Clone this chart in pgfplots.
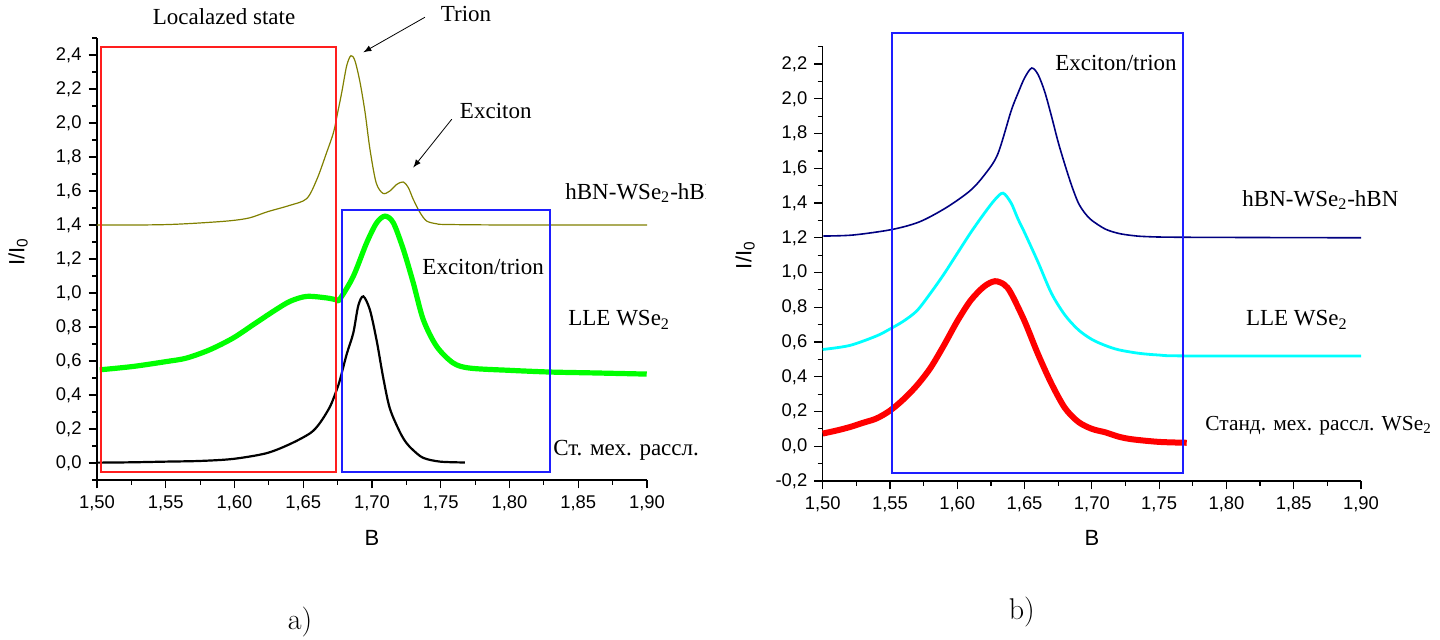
\documentclass[border=0pt]{standalone}
\usepackage{fontspec}
\usepackage{pgfplots}
\pgfplotsset{compat=1.18}
\newfontfamily\arial{Liberation Sans}
\newfontfamily\tnr{Liberation Serif}
\definecolor{olivec}{RGB}{128,128,0}
\definecolor{greenc}{RGB}{0,255,0}
\definecolor{navyc}{RGB}{0,0,128}
\definecolor{cyanc}{RGB}{0,255,255}
\definecolor{redc}{RGB}{255,0,0}
\definecolor{boxred}{RGB}{255,30,30}
\definecolor{boxblue}{RGB}{30,30,255}

\pgfplotstableread{
x y
1.500 1.400
1.530 1.400
1.553 1.403
1.575 1.412
1.597 1.425
1.611 1.442
1.624 1.478
1.640 1.515
1.6525 1.555
1.660 1.670
1.667 1.826
1.672 1.944
1.675 2.060
1.678 2.180
1.6816 2.337
1.6847 2.396
1.6876 2.366
1.6913 2.239
1.695 2.060
1.6985 1.846
1.703 1.649
1.708 1.586
1.713 1.600
1.718 1.639
1.7228 1.653
1.7264 1.620
1.730 1.551
1.735 1.472
1.7398 1.423
1.747 1.407
1.754 1.403
1.800 1.400
1.900 1.400
}\olive

\pgfplotstableread{
x y
1.502 0.548
1.5264 0.568
1.5507 0.597
1.565 0.617
1.582 0.666
1.599 0.735
1.6137 0.814
1.6282 0.892
1.6404 0.951
1.6525 0.980
1.667 0.971
1.6743 0.960
1.6767 0.965
1.6864 1.098
1.6961 1.295
1.7034 1.413
1.7095 1.452
1.7155 1.413
1.7228 1.256
1.730 1.060
1.7373 0.843
1.747 0.686
1.7591 0.588
1.7713 0.558
1.800 0.545
1.8295 0.535
1.860 0.530
1.8998 0.523
}\greenl

\pgfplotstableread{
x y
1.500 0.002
1.525 0.004
1.550 0.008
1.575 0.012
1.599 0.024
1.623 0.057
1.640 0.110
1.655 0.175
1.662 0.234
1.6695 0.332
1.6743 0.430
1.6767 0.489
1.6816 0.640
1.6864 0.765
1.690 0.925
1.6937 0.980
1.6985 0.900
1.7034 0.720
1.7082 0.500
1.713 0.320
1.7204 0.180
1.7252 0.116
1.730 0.075
1.7373 0.030
1.7495 0.008
1.7676 0.003
}\blackl

\pgfplotstableread{
x y
1.5005 1.210
1.5227 1.216
1.5517 1.248
1.5723 1.293
1.5921 1.375
1.6094 1.470
1.620 1.560
1.630 1.680
1.640 1.930
1.645 2.030
1.650 2.120
1.6553 2.177
1.660 2.140
1.665 2.040
1.670 1.900
1.675 1.750
1.680 1.620
1.685 1.500
1.690 1.400
1.695 1.340
1.700 1.300
1.710 1.250
1.720 1.225
1.730 1.213
1.740 1.207
1.7675 1.203
1.900 1.200
}\navyr

\pgfplotstableread{
x y
1.500 0.557
1.520 0.580
1.540 0.635
1.550 0.675
1.560 0.720
1.570 0.780
1.580 0.880
1.590 0.990
1.600 1.110
1.610 1.230
1.620 1.340
1.628 1.420
1.634 1.457
1.640 1.400
1.645 1.310
1.650 1.230
1.660 1.060
1.670 0.880
1.680 0.755
1.690 0.670
1.700 0.615
1.710 0.580
1.720 0.555
1.735 0.535
1.750 0.525
1.770 0.520
1.900 0.519
}\cyanr

\pgfplotstableread{
x y
1.500 0.073
1.510 0.090
1.520 0.110
1.530 0.135
1.540 0.160
1.550 0.205
1.560 0.270
1.570 0.350
1.580 0.450
1.590 0.580
1.600 0.720
1.610 0.840
1.620 0.920
1.628 0.950
1.635 0.930
1.640 0.880
1.650 0.720
1.660 0.530
1.670 0.360
1.680 0.220
1.690 0.140
1.700 0.100
1.710 0.080
1.720 0.055
1.730 0.040
1.750 0.025
1.7705 0.020
}\redr

\pgfplotsset{
  myax/.style={
    scale only axis, clip=false,
    axis lines*=left,
    axis line style={-, black, line width=0.6pt},
    tick align=outside,
    major tick length=4.2pt, minor tick length=2.5pt,
    every tick/.style={black, line width=0.6pt},
    xmin=1.5, xmax=1.9,
    xtick={1.5,1.55,1.6,1.65,1.7,1.75,1.8,1.85,1.9},
    minor xtick={1.525,1.575,1.625,1.675,1.725,1.775,1.825,1.875},
    tick label style={font=\arial\fontsize{9.2}{11}\selectfont},
    /pgf/number format/assume math mode=true,
    xticklabel style={/pgf/number format/.cd, fixed, fixed zerofill, precision=2, use comma},
    yticklabel style={/pgf/number format/.cd, fixed, fixed zerofill, precision=1, use comma},
    xlabel={B}, ylabel={I/I\textsubscript{0}},
    label style={font=\arial\fontsize{11}{13}\selectfont},
  },
}
\tikzset{ann/.style={font=\tnr\fontsize{11.5}{13}\selectfont, inner sep=0pt}}

\begin{document}
\begin{tikzpicture}
\useasboundingbox (0,0) rectangle (720pt,320pt);

% ---------- panel a ----------
\begin{axis}[myax,
  at={(48.5pt,80pt)}, anchor=south west,
  width=275pt, height=221pt,
  ymin=-0.1, ymax=2.5,
  ytick={0,0.2,0.4,0.6,0.8,1.0,1.2,1.4,1.6,1.8,2.0,2.2,2.4},
  minor ytick={-0.1,0.1,0.3,0.5,0.7,0.9,1.1,1.3,1.5,1.7,1.9,2.1,2.3,2.5},
  xlabel style={at={(axis description cs:0.5,-0.131)}, anchor=center},
  ylabel style={at={(axis description cs:-0.1436,0.516)}, anchor=center},
]
\addplot[olivec, line width=0.6pt, smooth, tension=0.5] table {\olive};
\addplot[greenc, line width=2.6pt, smooth, tension=0.5] table {\greenl};
\addplot[black, line width=1.1pt, smooth, tension=0.5] table {\blackl};
\draw[boxred, line width=0.9pt] (axis cs:1.5027,-0.055) rectangle (axis cs:1.674,2.449);
\draw[boxblue, line width=0.9pt] (axis cs:1.678,-0.055) rectangle (axis cs:1.8295,1.486);
\node[ann] at (axis cs:1.5924,2.624) {Localazed state};
\node[ann] at (axis cs:1.7684,2.641) {Trion};
\draw[-latex, black, line width=0.4pt] (axis cs:1.7385,2.622) -- (axis cs:1.6937,2.416);
\node[ann] at (axis cs:1.790,2.071) {Exciton};
\draw[-latex, black, line width=0.4pt] (axis cs:1.758,2.022) -- (axis cs:1.730,1.738);
\node[ann, anchor=west] at (axis cs:1.7364,1.15) {Exciton/trion};
\node[ann, anchor=west] at (axis cs:1.8425,0.843) {LLE WSe\textsubscript{2}};
\node[ann, anchor=west] at (axis cs:1.8316,0.077) {Ст. мех. рассл.};
\node[font=\fontsize{15}{18}\selectfont] at (axis description cs:0.369,-0.321) {a)};
\end{axis}

\begin{scope}
\clip (0,0) rectangle (352.5pt,320pt);
\node[ann, anchor=west] at (282.5pt,223.5pt) {hBN-WSe\textsubscript{2}-hBN};
\end{scope}

% ---------- panel b ----------
\begin{axis}[myax,
  at={(411.35pt,79.5pt)}, anchor=south west,
  width=269.15pt, height=217.15pt,
  ymin=-0.2, ymax=2.3,
  ytick={-0.2,0,0.2,0.4,0.6,0.8,1.0,1.2,1.4,1.6,1.8,2.0,2.2},
  minor ytick={-0.1,0.1,0.3,0.5,0.7,0.9,1.1,1.3,1.5,1.7,1.9,2.1,2.3},
  xlabel style={at={(axis description cs:0.5,-0.131)}, anchor=center},
  ylabel style={at={(axis description cs:-0.144,0.52)}, anchor=center},
]
\addplot[navyc, line width=0.8pt, smooth, tension=0.5] table {\navyr};
\addplot[cyanc, line width=1.4pt, smooth, tension=0.5] table {\cyanr};
\addplot[redc, line width=3pt, smooth, tension=0.5] table {\redr};
\draw[boxblue, line width=0.9pt] (axis cs:1.5517,-0.152) rectangle (axis cs:1.7675,2.379);
\node[ann] at (axis cs:1.7179,2.2075) {Exciton/trion};
\node[ann, anchor=west] at (axis cs:1.8116,1.418) {hBN-WSe\textsubscript{2}-hBN};
\node[ann, anchor=west] at (axis cs:1.8143,0.726) {LLE WSe\textsubscript{2}};
\node[ann, anchor=west, font=\tnr\fontsize{10.7}{13}\selectfont] at (axis cs:1.7841,0.121) {Станд. мех. рассл. WSe\textsubscript{2}};
\node[font=\fontsize{15}{18}\selectfont] at (axis description cs:0.370,-0.302) {b)};
\end{axis}
\end{tikzpicture}
\end{document}
